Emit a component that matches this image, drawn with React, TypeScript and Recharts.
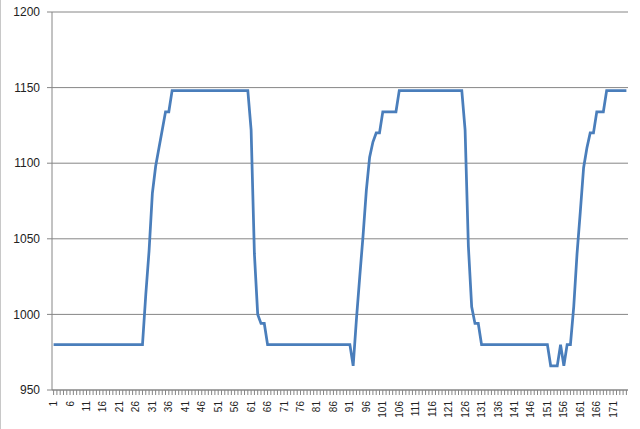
import { CartesianGrid, Line, LineChart, XAxis, YAxis } from "recharts";

const AXIS = "#868686";
const STROKE = "#4a7ebb";

// sample numbers on the x axis, 1..175
const samples = Array.from({ length: 175 }, (_, i) => i + 1);

// one row per 20 samples
const readings = [
  980, 980, 980, 980, 980, 980, 980, 980, 980, 980, 980, 980, 980, 980, 980, 980, 980, 980, 980, 980,
  980, 980, 980, 980, 980, 980, 980, 980, 1013, 1042, 1080, 1098, 1110, 1122, 1134, 1134, 1148, 1148, 1148, 1148,
  1148, 1148, 1148, 1148, 1148, 1148, 1148, 1148, 1148, 1148, 1148, 1148, 1148, 1148, 1148, 1148, 1148, 1148, 1148, 1148,
  1122, 1040, 1000, 994, 994, 980, 980, 980, 980, 980, 980, 980, 980, 980, 980, 980, 980, 980, 980, 980,
  980, 980, 980, 980, 980, 980, 980, 980, 980, 980, 980, 966, 997, 1025, 1052, 1082, 1104, 1114, 1120, 1120,
  1134, 1134, 1134, 1134, 1134, 1148, 1148, 1148, 1148, 1148, 1148, 1148, 1148, 1148, 1148, 1148, 1148, 1148, 1148, 1148,
  1148, 1148, 1148, 1148, 1148, 1122, 1045, 1005, 994, 994, 980, 980, 980, 980, 980, 980, 980, 980, 980, 980,
  980, 980, 980, 980, 980, 980, 980, 980, 980, 980, 980, 966, 966, 966, 980, 966, 980, 980, 1005, 1040,
  1068, 1097, 1110, 1120, 1120, 1134, 1134, 1134, 1148, 1148, 1148, 1148, 1148, 1148, 1148,
];

const yTicks = [950, 1000, 1050, 1100, 1150, 1200];

const data = samples.map((n, i) => ({ n, v: readings[i] }));

function XTick({ x, y, payload }: { x: number; y: number; payload: { value: number } }) {
  if ((payload.value - 1) % 5 !== 0) return <g />;
  return (
    <g transform={`translate(${x},${y})`}>
      <text
        transform="rotate(-90)"
        textAnchor="end"
        dy="0.35em"
        fontSize={10}
        fill="#222"
        fontFamily="'Liberation Sans', Arial, sans-serif"
      >
        {payload.value}
      </text>
    </g>
  );
}

export default function App() {
  return (
    <div
      style={{
        position: "absolute",
        left: 0,
        top: 0,
        width: 640,
        height: 429,
        background: "#fff",
        borderLeft: "1px solid #c8c8c8",
        boxSizing: "border-box",
      }}
    >
      <LineChart
        width={639}
        height={429}
        data={data}
        margin={{ top: 12, right: 12, left: 0, bottom: 4 }}
      >
        <CartesianGrid vertical={false} stroke={AXIS} />
        <XAxis
          dataKey="n"
          interval={0}
          padding={{ left: 1.6, right: 1.6 }}
          height={35}
          tickSize={5}
          tickMargin={6}
          stroke={AXIS}
          tick={XTick}
        />
        <YAxis
          domain={[950, 1200]}
          ticks={yTicks}
          width={51}
          tickSize={5}
          tickMargin={7}
          stroke={AXIS}
          tick={{ fontSize: 12, fill: "#222", fontFamily: "'Liberation Sans', Arial, sans-serif" }}
        />
        <Line
          type="linear"
          dataKey="v"
          stroke={STROKE}
          strokeWidth={2.75}
          dot={false}
          activeDot={false}
          isAnimationActive={false}
        />
      </LineChart>
    </div>
  );
}
